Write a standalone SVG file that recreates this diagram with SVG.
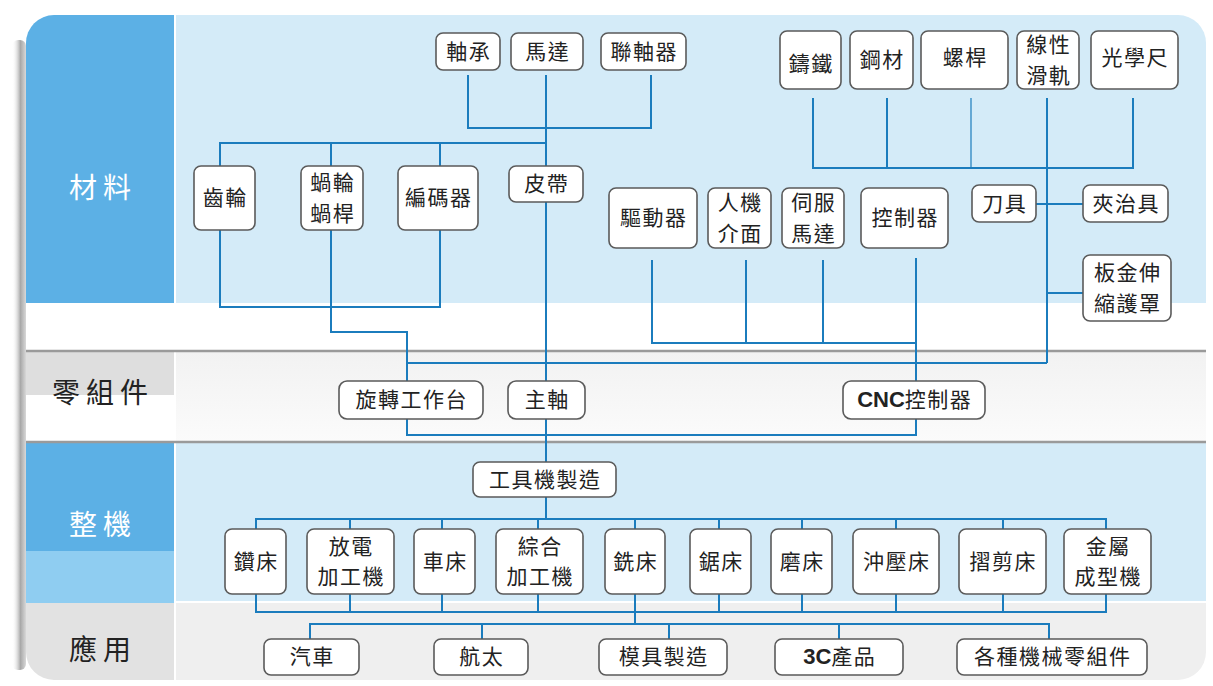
<svg xmlns="http://www.w3.org/2000/svg" width="1213" height="686" viewBox="0 0 1213 686">
<defs>
<style>
.node rect{fill:#ffffff;stroke:#5a5a5a;stroke-width:1.6}
.node text,.lbl{font-family:"Noto Sans CJK TC","Noto Sans CJK SC",sans-serif;text-anchor:middle}
.node text{font-size:21px;fill:#222;letter-spacing:1.5px}
.lbl{font-size:28px;letter-spacing:6px}
.conn path{fill:none;stroke:#1b7cbd;stroke-width:2}
.sep{stroke:#9a9a9a;stroke-width:2.5}
.b{font-family:"Liberation Sans",Arial,sans-serif;font-weight:bold;letter-spacing:0}
</style>
<clipPath id="frame"><rect x="26" y="15" width="1180" height="665" rx="28"/></clipPath>
<linearGradient id="shadow" x1="0" x2="1" y1="0" y2="0">
<stop offset="0" stop-color="#ffffff" stop-opacity="0"/>
<stop offset="0.6" stop-color="#a8a8a8"/>
<stop offset="1" stop-color="#d8d8d8"/>
</linearGradient>
<linearGradient id="gray" x1="0" x2="0" y1="0" y2="1">
<stop offset="0" stop-color="#f2f2f2"/>
<stop offset="1" stop-color="#fbfbfb"/>
</linearGradient>
</defs>
<rect width="1213" height="686" fill="#ffffff"/>
<rect x="12" y="40" width="14" height="630" rx="6" fill="url(#shadow)"/>
<g id="background" clip-path="url(#frame)">
<rect x="26" y="15" width="1180" height="665" fill="#ffffff"/>
<rect x="176" y="15" width="1030" height="288" fill="#d4ebf8"/>
<rect x="26" y="15" width="148" height="288" fill="#5cb0e5"/>
<rect x="176" y="352" width="1030" height="90" fill="url(#gray)"/>
<rect x="26" y="352" width="148" height="43" fill="#dedede"/>
<rect x="176" y="443" width="1030" height="158" fill="#d4ebf8"/>
<rect x="26" y="443" width="148" height="108" fill="#5cb0e5"/>
<rect x="26" y="551" width="148" height="52" fill="#8fcdf1"/>
<rect x="176" y="603" width="1030" height="77" fill="#efefef"/>
<rect x="26" y="603" width="148" height="77" fill="#e2e2e2"/>
<line class="sep" x1="26" y1="351" x2="1206" y2="351"/>
<line class="sep" x1="26" y1="442" x2="1206" y2="442"/>
</g>
<g id="labels">
<text class="lbl" x="103" y="198" fill="#ffffff">材料</text>
<text class="lbl" x="103" y="403" fill="#222">零組件</text>
<text class="lbl" x="103" y="535" fill="#ffffff">整機</text>
<text class="lbl" x="103" y="660" fill="#222">應用</text>
</g>
<g id="connectors" class="conn">
<path d="M468,75 V128 H651 V75"/>
<path d="M546,75 V381"/>
<path d="M220,166 V143 H546"/>
<path d="M331,143 V166"/>
<path d="M440,143 V166"/>
<path d="M220,230 V307 H440 V230"/>
<path d="M331,230 V332 H407 V381"/>
<path d="M407,363 H1047"/>
<path d="M1047,98 V363"/>
<path d="M813,98 V168 H1133 V98"/>
<path d="M887,98 V168"/>
<path d="M971,98 V168" style="stroke-width:1.2"/>
<path d="M1036,204 H1083"/>
<path d="M1047,293 H1083"/>
<path d="M652,260 V343 H916"/>
<path d="M746,260 V343"/>
<path d="M823,260 V343"/>
<path d="M916,258 V381"/>
<path d="M407,419 V435 H916 V419"/>
<path d="M546,419 V462"/>
<path d="M546,497 V519"/>
<path d="M256,529 V519 H1106 V529"/>
<path d="M350,519 V529 M442,519 V529 M538,519 V529 M635,519 V529 M719,519 V529 M802,519 V529 M896,519 V529 M1003,519 V529"/>
<path d="M256,594 V612 H1106 V594"/>
<path d="M350,594 V612 M442,594 V612 M538,594 V612 M635,594 V624 M719,594 V612 M802,594 V612 M896,594 V612 M1003,594 V612"/>
<path d="M310,639 V624 H1049 V639"/>
<path d="M482,624 V639 M669,624 V639 M839,624 V639"/>
</g>
<g id="n-zhoucheng" class="node"><rect x="436" y="33" width="64" height="37" rx="7"/><text x="468.75" y="51.5" dy="0.35em">軸承</text></g>
<g id="n-mada" class="node"><rect x="511" y="33" width="72" height="37" rx="7"/><text x="547.75" y="51.5" dy="0.35em">馬達</text></g>
<g id="n-lianzhouqi" class="node"><rect x="601" y="33" width="85" height="37" rx="7"/><text x="644.25" y="51.5" dy="0.35em">聯軸器</text></g>
<g id="n-zhutie" class="node"><rect x="780" y="31" width="61" height="58" rx="7"/><text x="811.25" y="64" dy="0.35em">鑄鐵</text></g>
<g id="n-gangcai" class="node"><rect x="850" y="31" width="63" height="58" rx="7"/><text x="882.25" y="60" dy="0.35em">鋼材</text></g>
<g id="n-luogan" class="node"><rect x="921" y="31" width="87" height="58" rx="7"/><text x="965.25" y="58" dy="0.35em">螺桿</text></g>
<g id="n-huagui" class="node"><rect x="1017" y="31" width="62" height="58" rx="7"/><text x="1048.75" y="44.75" dy="0.35em">線性</text><text x="1048.75" y="75.25" dy="0.35em">滑軌</text></g>
<g id="n-guangxuechi" class="node"><rect x="1091" y="31" width="87" height="58" rx="7"/><text x="1135.25" y="58" dy="0.35em">光學尺</text></g>
<g id="n-chilun" class="node"><rect x="194" y="166" width="61" height="64" rx="7"/><text x="225.25" y="198" dy="0.35em">齒輪</text></g>
<g id="n-wolun" class="node"><rect x="301" y="166" width="62" height="64" rx="7"/><text x="332.75" y="182.75" dy="0.35em">蝸輪</text><text x="332.75" y="213.25" dy="0.35em">蝸桿</text></g>
<g id="n-bianmaqi" class="node"><rect x="398" y="166" width="80" height="64" rx="7"/><text x="438.75" y="198" dy="0.35em">編碼器</text></g>
<g id="n-pidai" class="node"><rect x="509" y="166" width="74" height="36" rx="7"/><text x="546.75" y="184" dy="0.35em">皮帶</text></g>
<g id="n-qudongqi" class="node"><rect x="609" y="188" width="88" height="60" rx="7"/><text x="653.75" y="218" dy="0.35em">驅動器</text></g>
<g id="n-renji" class="node"><rect x="708" y="188" width="63" height="60" rx="7"/><text x="740.25" y="202.75" dy="0.35em">人機</text><text x="740.25" y="233.25" dy="0.35em">介面</text></g>
<g id="n-sifu" class="node"><rect x="782" y="188" width="62" height="60" rx="7"/><text x="813.75" y="202.75" dy="0.35em">伺服</text><text x="813.75" y="233.25" dy="0.35em">馬達</text></g>
<g id="n-kongzhiqi" class="node"><rect x="861" y="188" width="87" height="60" rx="7"/><text x="905.25" y="218" dy="0.35em">控制器</text></g>
<g id="n-daoju" class="node"><rect x="972" y="185" width="64" height="37" rx="7"/><text x="1004.75" y="203.5" dy="0.35em">刀具</text></g>
<g id="n-jiazhiju" class="node"><rect x="1083" y="185" width="85" height="37" rx="7"/><text x="1126.25" y="203.5" dy="0.35em">夾治具</text></g>
<g id="n-banjin" class="node"><rect x="1083" y="255" width="88" height="66" rx="7"/><text x="1127.75" y="272.75" dy="0.35em">板金伸</text><text x="1127.75" y="303.25" dy="0.35em">縮護罩</text></g>
<g id="n-xuanzhuan" class="node"><rect x="339" y="381" width="144" height="38" rx="8"/><text x="411.75" y="400" dy="0.35em">旋轉工作台</text></g>
<g id="n-zhuzhou" class="node"><rect x="508" y="381" width="77" height="38" rx="8"/><text x="547.25" y="400" dy="0.35em">主軸</text></g>
<g id="n-cnc" class="node"><rect x="843" y="381" width="142" height="38" rx="8"/><text x="914.75" y="400" dy="0.35em"><tspan class="b" font-size="22">CNC</tspan>控制器</text></g>
<g id="n-gongjuji" class="node"><rect x="473" y="462" width="143" height="35" rx="7"/><text x="545.25" y="479.5" dy="0.35em">工具機製造</text></g>
<g id="n-zuanchuang" class="node"><rect x="225" y="529" width="61" height="65" rx="7"/><text x="256.25" y="561.5" dy="0.35em">鑽床</text></g>
<g id="n-fangdian" class="node"><rect x="307" y="529" width="87" height="65" rx="7"/><text x="351.25" y="546.25" dy="0.35em">放電</text><text x="351.25" y="576.75" dy="0.35em">加工機</text></g>
<g id="n-chechuang" class="node"><rect x="414" y="529" width="61" height="65" rx="7"/><text x="445.25" y="561.5" dy="0.35em">車床</text></g>
<g id="n-zonghe" class="node"><rect x="496" y="529" width="87" height="65" rx="7"/><text x="540.25" y="546.25" dy="0.35em">綜合</text><text x="540.25" y="576.75" dy="0.35em">加工機</text></g>
<g id="n-xichuang" class="node"><rect x="605" y="529" width="60" height="65" rx="7"/><text x="635.75" y="561.5" dy="0.35em">銑床</text></g>
<g id="n-juchuang" class="node"><rect x="690" y="529" width="61" height="65" rx="7"/><text x="721.25" y="561.5" dy="0.35em">鋸床</text></g>
<g id="n-mochuang" class="node"><rect x="771" y="529" width="61" height="65" rx="7"/><text x="802.25" y="561.5" dy="0.35em">磨床</text></g>
<g id="n-chongya" class="node"><rect x="853" y="529" width="86" height="65" rx="7"/><text x="896.75" y="561.5" dy="0.35em">沖壓床</text></g>
<g id="n-zhejian" class="node"><rect x="959" y="529" width="87" height="65" rx="7"/><text x="1003.25" y="561.5" dy="0.35em">摺剪床</text></g>
<g id="n-jinshu" class="node"><rect x="1064" y="529" width="87" height="65" rx="7"/><text x="1108.25" y="546.25" dy="0.35em">金屬</text><text x="1108.25" y="576.75" dy="0.35em">成型機</text></g>
<g id="n-qiche" class="node"><rect x="264" y="639" width="95" height="36" rx="7"/><text x="312.25" y="657" dy="0.35em">汽車</text></g>
<g id="n-hangtai" class="node"><rect x="434" y="639" width="94" height="36" rx="7"/><text x="481.75" y="657" dy="0.35em">航太</text></g>
<g id="n-moju" class="node"><rect x="599" y="639" width="128" height="36" rx="7"/><text x="663.75" y="657" dy="0.35em">模具製造</text></g>
<g id="n-3c" class="node"><rect x="775" y="639" width="128" height="36" rx="7"/><text x="839.75" y="657" dy="0.35em"><tspan class="b" font-size="22">3C</tspan>產品</text></g>
<g id="n-gezhong" class="node"><rect x="957" y="639" width="190" height="36" rx="7"/><text x="1052.75" y="657" dy="0.35em">各種機械零組件</text></g>
</svg>
